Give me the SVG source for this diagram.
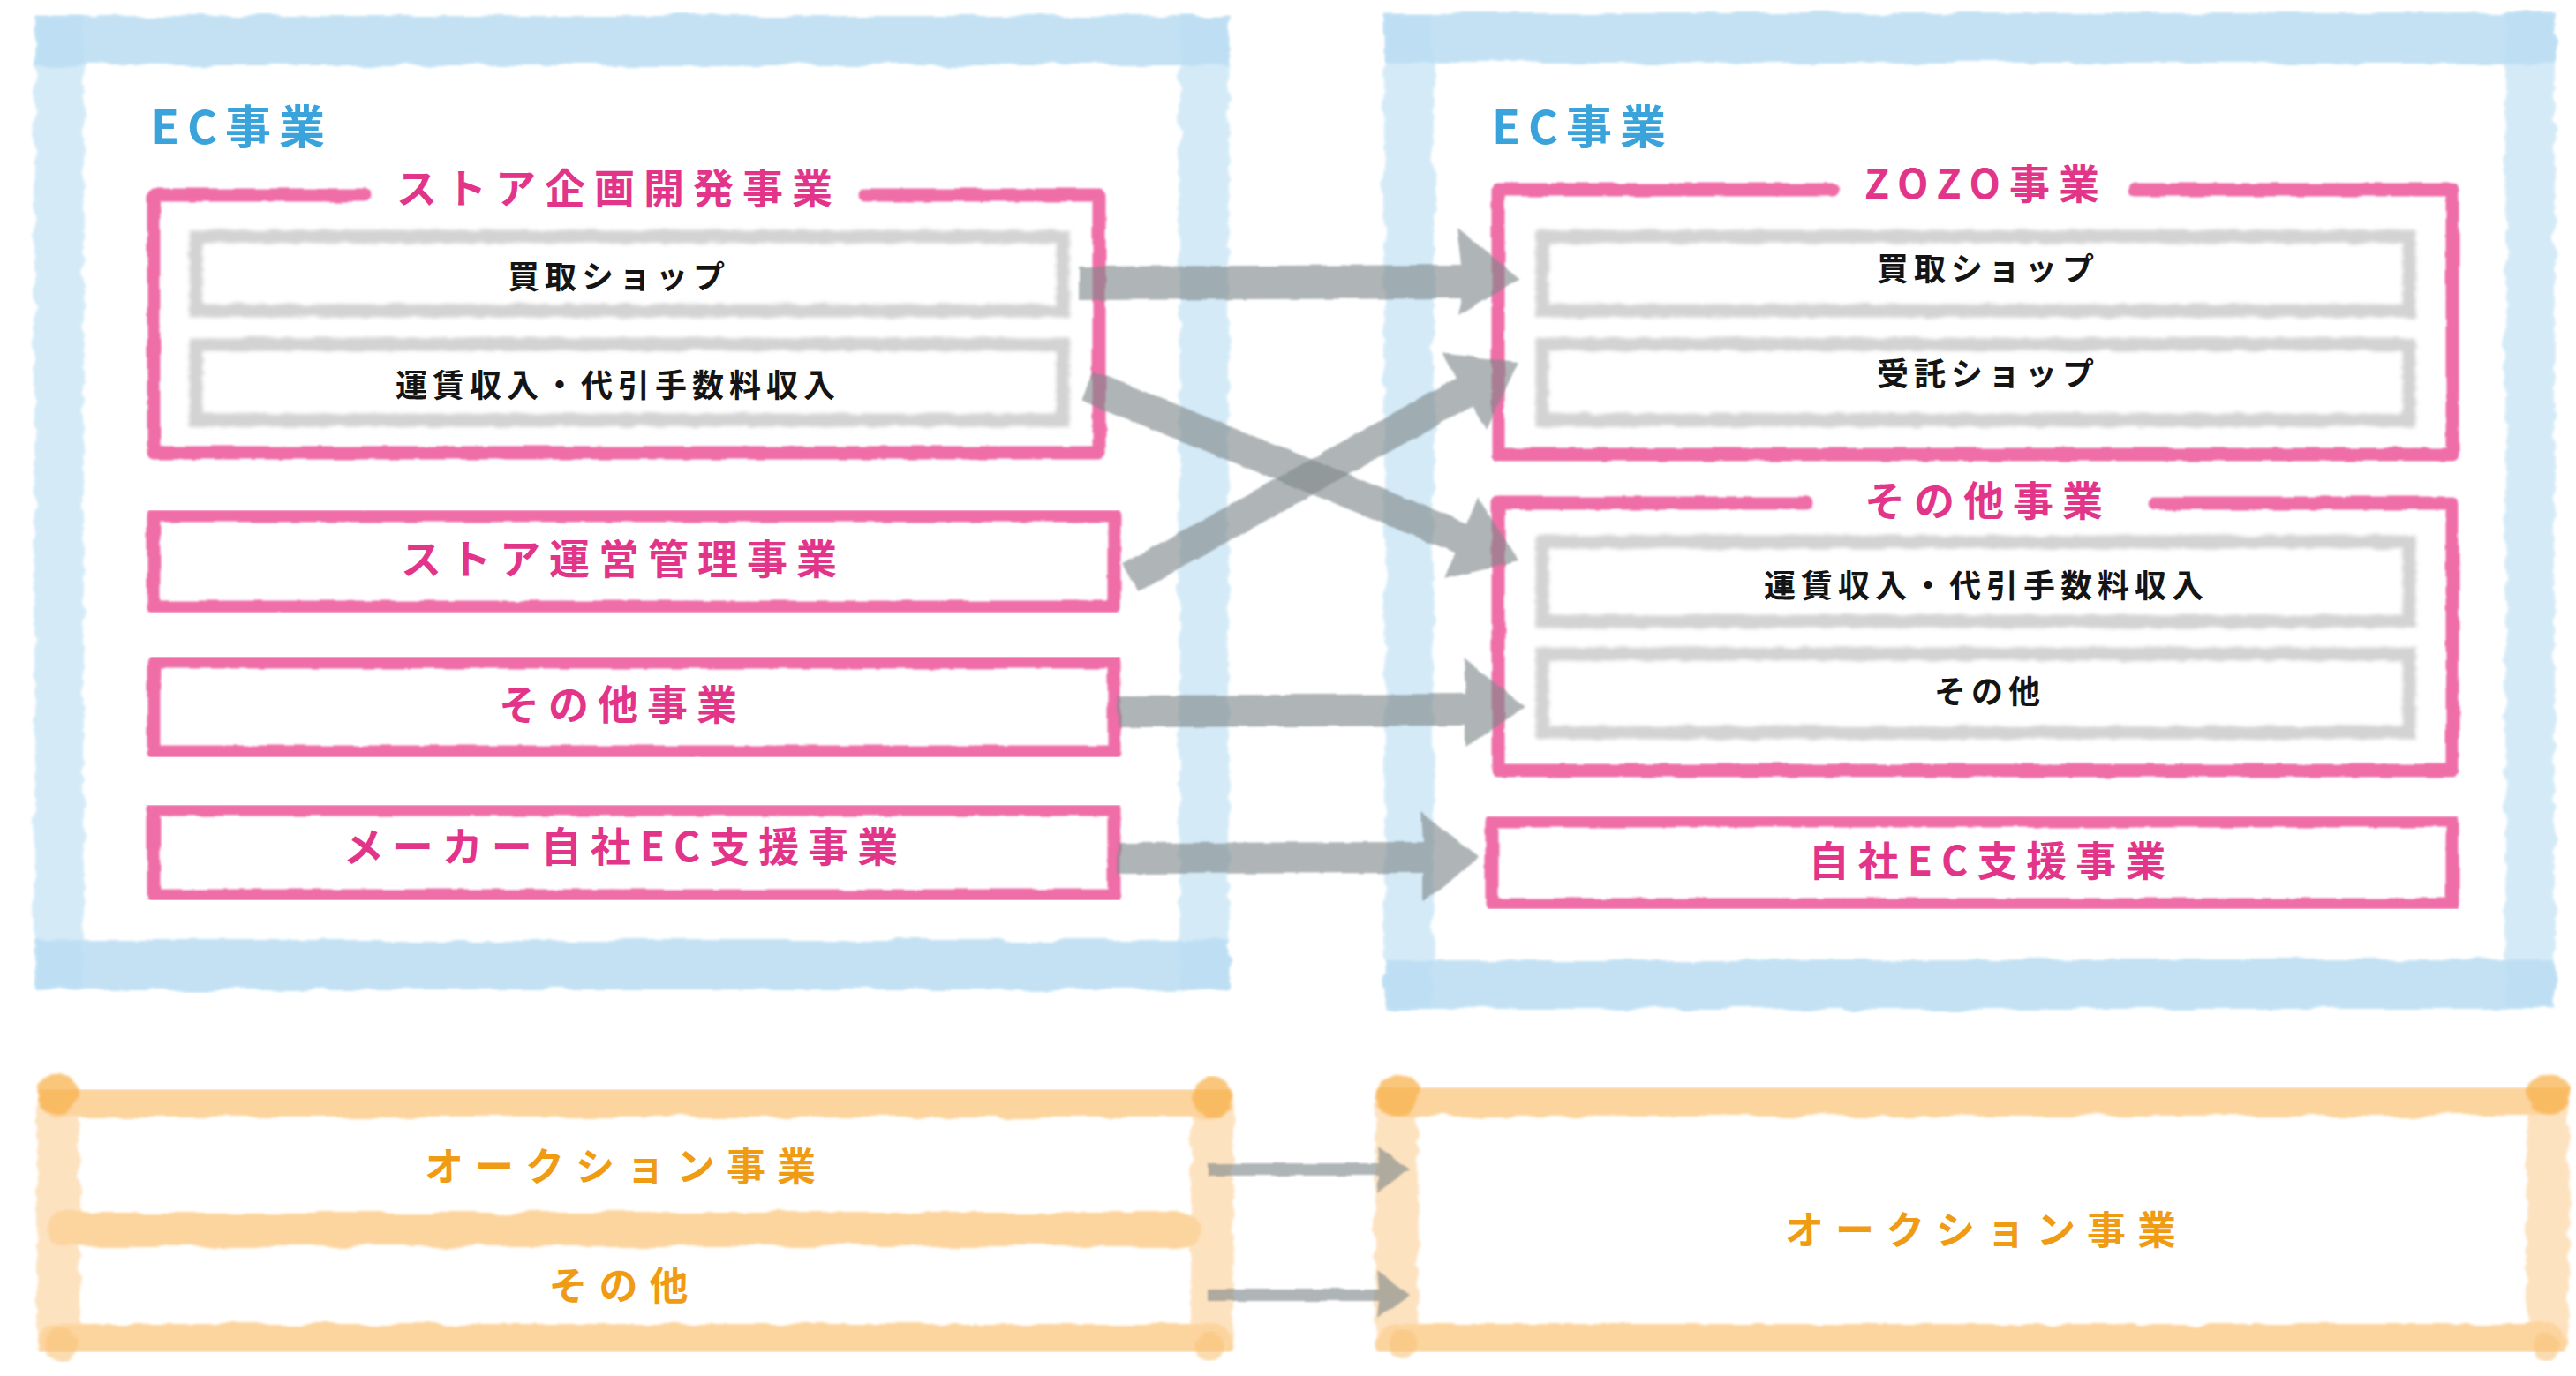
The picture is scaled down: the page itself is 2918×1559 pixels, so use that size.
<svg xmlns="http://www.w3.org/2000/svg" width="2918" height="1559" viewBox="0 0 2918 1559">
<defs>
<filter id="wc" x="-3%" y="-3%" width="106%" height="106%">
<feTurbulence type="fractalNoise" baseFrequency="0.02 0.05" numOctaves="3" seed="4" result="n"/>
<feDisplacementMap in="SourceGraphic" in2="n" scale="12" xChannelSelector="R" yChannelSelector="G" result="d"/>
<feGaussianBlur in="d" stdDeviation="1.6"/>
</filter>
<filter id="wcU" filterUnits="userSpaceOnUse" x="0" y="1340" width="1460" height="110">
<feTurbulence type="fractalNoise" baseFrequency="0.02 0.05" numOctaves="3" seed="9" result="n"/>
<feDisplacementMap in="SourceGraphic" in2="n" scale="12" xChannelSelector="R" yChannelSelector="G" result="d"/>
<feGaussianBlur in="d" stdDeviation="1.6"/>
</filter>
<filter id="wc2" x="-5%" y="-5%" width="110%" height="110%">
<feTurbulence type="fractalNoise" baseFrequency="0.04" numOctaves="2" seed="7" result="n"/>
<feDisplacementMap in="SourceGraphic" in2="n" scale="5" xChannelSelector="R" yChannelSelector="G" result="d"/>
<feGaussianBlur in="d" stdDeviation="0.8"/>
</filter>
<filter id="soft" x="-5%" y="-20%" width="110%" height="140%">
<feTurbulence type="fractalNoise" baseFrequency="0.05 0.2" numOctaves="2" seed="2" result="n"/>
<feDisplacementMap in="SourceGraphic" in2="n" scale="6" xChannelSelector="R" yChannelSelector="G" result="d"/>
<feGaussianBlur in="d" stdDeviation="2.2"/>
</filter>
<style>
.bh{fill:none;stroke:#bcdef3;stroke-width:56;filter:url(#wc);opacity:.88}
.bv{fill:none;stroke:#cfe8f7;stroke-width:56;filter:url(#wc);opacity:.88}
.pk{fill:none;stroke:#ef6ea8;stroke-width:15;stroke-linecap:round;stroke-linejoin:round;filter:url(#wc2)}
.gr{fill:none;stroke:#d3d3d3;stroke-width:15;filter:url(#soft)}
.oh{fill:none;stroke:#fcd49e;stroke-width:46;stroke-linecap:round;filter:url(#wc)}
.ov{fill:none;stroke:#fde2c0;stroke-width:48;filter:url(#wc)}
.od{fill:#f8b350;opacity:.75;filter:url(#wc)}
.ol{fill:#f9c47c;opacity:.6;filter:url(#wc)}
.ar{fill:#7e8889;fill-opacity:.62;filter:url(#wc2)}
.t{font-family:"Noto Sans CJK JP","Noto Sans",sans-serif;font-weight:700}
.tb{fill:#3aa3db;font-size:52px;letter-spacing:9px}
.tp{fill:#e2358a;font-size:46px;letter-spacing:10px;text-anchor:middle}
.tk{fill:#141414;font-size:36px;letter-spacing:6px;text-anchor:middle}
.to{fill:#f09b14;font-size:44px;letter-spacing:13px;text-anchor:middle}
</style>
</defs>
<rect width="2918" height="1559" fill="#ffffff"/>

<g id="frame-left-ec">
<path class="bv" d="M67,18 V1122 M1364,18 V1122"/>
<path class="bh" d="M40,46 H1392 M40,1093 H1392"/>
<text class="t tb" x="171" y="163">EC事業</text>
</g>

<g id="frame-right-ec">
<path class="bv" d="M1596,15 V1142 M2866,15 V1142"/>
<path class="bh" d="M1568,43 H2894 M1568,1115 H2894"/>
<text class="t tb" x="1690" y="163">EC事業</text>
</g>

<g id="node-store-planning">
<path class="pk" d="M413,221 H174 V513 H1245 V221 H980"/>
<text class="t tp" x="701" y="230">ストア企画開発事業</text>
</g>
<g id="node-left-kaitori">
<rect class="gr" x="222" y="268" width="982" height="84"/>
<text class="t tk" x="701" y="327">買取ショップ</text>
</g>
<g id="node-left-unchin">
<rect class="gr" x="222" y="390" width="982" height="86"/>
<text class="t tk" x="700" y="450">運賃収入・代引手数料収入</text>
</g>
<g id="node-store-operation">
<rect class="pk" x="174" y="584" width="1088" height="104"/>
<text class="t tp" x="706" y="650">ストア運営管理事業</text>
</g>
<g id="node-left-other">
<rect class="pk" x="174" y="750" width="1088" height="102"/>
<text class="t tp" x="705" y="815">その他事業</text>
</g>
<g id="node-maker-ec">
<rect class="pk" x="174" y="917" width="1088" height="98"/>
<text class="t tp" x="708" y="976">メーカー自社EC支援事業</text>
</g>

<g id="node-zozo">
<path class="pk" d="M2076,215 H1697 V515 H2778 V215 H2418"/>
<text class="t tp" x="2250" y="225">ZOZO事業</text>
</g>
<g id="node-right-kaitori">
<rect class="gr" x="1747" y="268" width="982" height="84"/>
<text class="t tk" x="2252" y="318">買取ショップ</text>
</g>
<g id="node-right-jutaku">
<rect class="gr" x="1747" y="390" width="982" height="86"/>
<text class="t tk" x="2252" y="437">受託ショップ</text>
</g>
<g id="node-right-other-group">
<path class="pk" d="M2046,570 H1697 V873 H2778 V570 H2440"/>
<text class="t tp" x="2252" y="584">その他事業</text>
</g>
<g id="node-right-unchin">
<rect class="gr" x="1747" y="614" width="982" height="90"/>
<text class="t tk" x="2250" y="677">運賃収入・代引手数料収入</text>
</g>
<g id="node-right-other">
<rect class="gr" x="1747" y="741" width="982" height="89"/>
<text class="t tk" x="2254" y="797">その他</text>
</g>
<g id="node-jisha-ec">
<rect class="pk" x="1690" y="930" width="1088" height="95"/>
<text class="t tp" x="2256" y="992">自社EC支援事業</text>
</g>

<g id="node-left-auction">
<path class="ov" d="M66,1243 V1523 M1373,1243 V1523"/>
<path class="oh" d="M66,1243 H1373 M66,1523 H1373"/>
<path class="oh" style="stroke-width:38;filter:url(#wcU)" d="M72,1393 H1340"/>
<circle class="od" cx="66" cy="1240" r="24"/>
<circle class="od" cx="1373" cy="1243" r="22"/>
<circle class="ol" cx="70" cy="1523" r="18"/>
<circle class="ol" cx="1370" cy="1525" r="16"/>
<text class="t to" x="709" y="1338">オークション事業</text>
<text class="t to" x="707" y="1473">その他</text>
</g>
<g id="node-right-auction">
<path class="ov" d="M1582,1241 V1523 M2886,1241 V1523"/>
<path class="oh" d="M1582,1241 H2886 M1582,1523 H2886"/>
<circle class="od" cx="1584" cy="1240" r="24"/>
<circle class="od" cx="2886" cy="1240" r="24"/>
<circle class="ol" cx="1590" cy="1523" r="16"/>
<circle class="ol" cx="2884" cy="1525" r="16"/>
<text class="t to" x="2250" y="1410">オークション事業</text>
</g>

<g id="connectors">
<polygon class="ar" points="1222,302 1655,300 1650,258 1722,316 1652,358 1656,338 1222,340"/>
<polygon class="ar" points="1238.8,420.3 1662.0,592.8 1674.1,563.2 1720,636 1636.3,655.8 1648.4,626.2 1225.2,453.7"/>
<polygon class="ar" points="1271.2,639.3 1650.0,428.4 1634.5,400.4 1720,410 1683.2,487.8 1667.6,459.8 1288.8,670.7"/>
<polygon class="ar" points="1266,788 1660,786 1658,746 1728,801 1660,846 1660,822 1266,824"/>
<polygon class="ar" points="1266,955 1612,954 1610,920 1675,971 1612,1022 1612,989 1266,990"/>
<polygon class="ar" points="1368,1318 1562,1318 1560,1298 1597,1325 1560,1352 1562,1332 1368,1332"/>
<polygon class="ar" points="1368,1460 1562,1460 1560,1440 1597,1467 1560,1494 1562,1474 1368,1474"/>
</g>
</svg>
